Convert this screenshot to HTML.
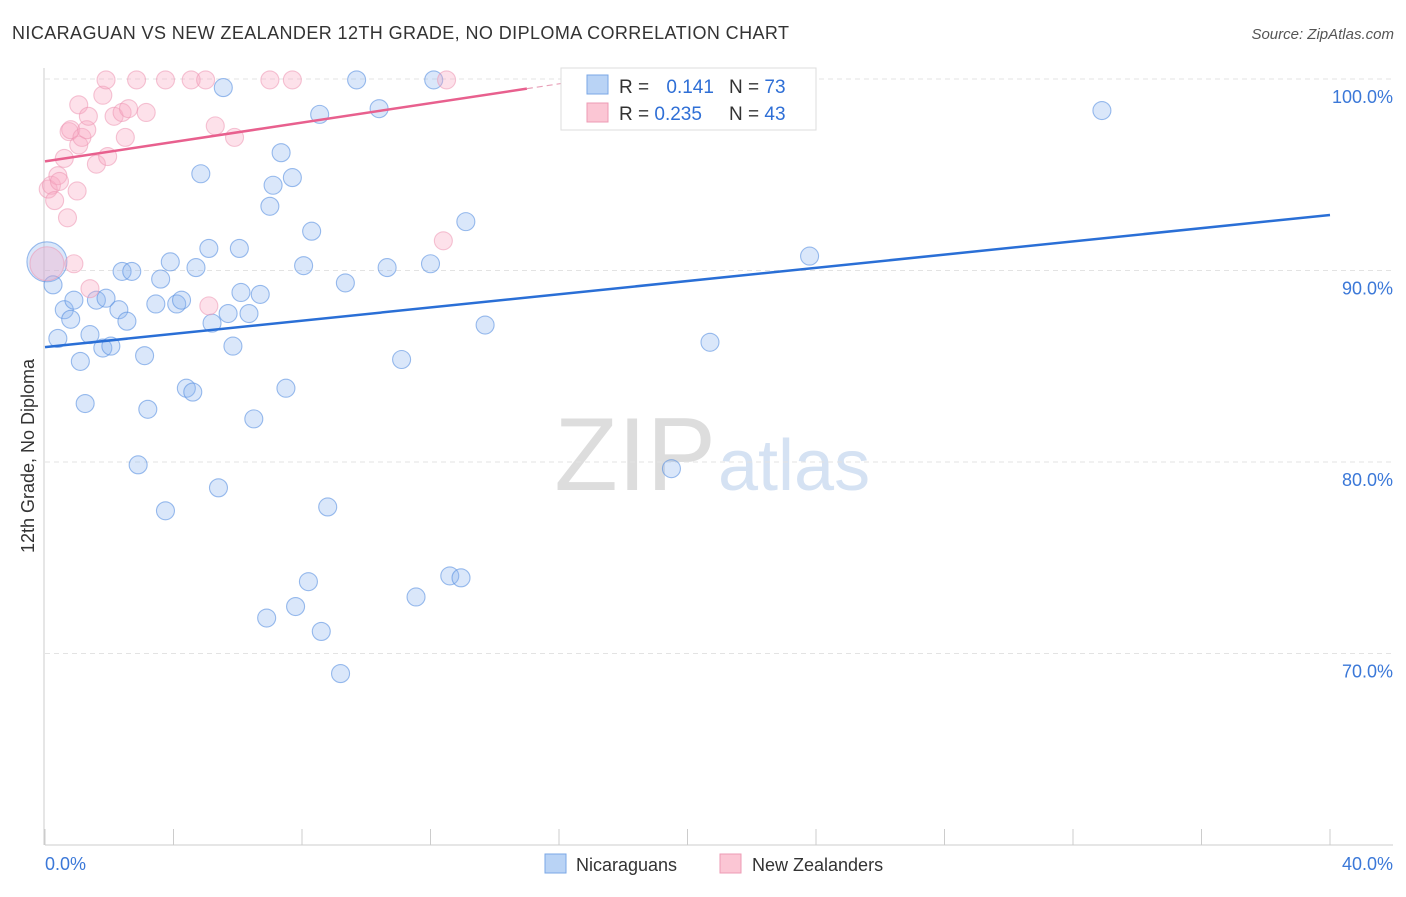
<!DOCTYPE html>
<html><head><meta charset="utf-8"><style>
body{margin:0;background:#fff;font-family:"Liberation Sans",sans-serif}
svg text{font-family:"Liberation Sans",sans-serif}
</style></head><body>
<svg id="c" width="1406" height="892">
<text x="12" y="39" font-size="18" fill="#333" textLength="777">NICARAGUAN VS NEW ZEALANDER 12TH GRADE, NO DIPLOMA CORRELATION CHART</text>
<text x="1394" y="39" font-size="15" fill="#555" text-anchor="end" font-style="italic">Source: ZipAtlas.com</text>
<text x="716" y="490" font-size="104" fill="#ddd" text-anchor="end" font-family="Liberation Serif">ZIP</text>
<text x="718" y="490" font-size="72" fill="#d5e2f3">atlas</text>
<g id="grid"></g><g id="axes"></g><g id="pts"></g><g id="lines"></g>
<text transform="translate(34,456) rotate(-90)" font-size="18" fill="#333" text-anchor="middle">12th Grade, No Diploma</text>
<g>
<rect x="561" y="68" width="255" height="62" fill="#fff" stroke="#ddd"/>
<rect x="587" y="75" width="21" height="19" fill="#b9d3f5" stroke="#7aa7e6"/>
<rect x="587" y="103" width="21" height="19" fill="#fbc6d4" stroke="#ee9bb4"/>
<text x="619" y="93" font-size="19" fill="#333">R = <tspan fill="#2f6fd6" dx="12">0.141</tspan></text>
<text x="729" y="93" font-size="19" fill="#333">N = <tspan fill="#2f6fd6">73</tspan></text>
<text x="619" y="120" font-size="19" fill="#333">R = <tspan fill="#2f6fd6">0.235</tspan></text>
<text x="729" y="120" font-size="19" fill="#333">N = <tspan fill="#2f6fd6">43</tspan></text>
</g>
<g>
<rect x="545" y="854" width="21" height="19" fill="#b9d3f5" stroke="#7aa7e6"/>
<text x="576" y="871" font-size="18" fill="#333">Nicaraguans</text>
<rect x="720" y="854" width="21" height="19" fill="#fbc6d4" stroke="#ee9bb4"/>
<text x="752" y="871" font-size="18" fill="#333">New Zealanders</text>
</g>
</svg>
<script>
const blueX=[0.06,0.25,0.4,0.6,0.8,0.9,1.1,1.25,1.4,1.6,1.8,1.9,2.05,2.3,2.4,2.55,2.7,3.1,3.2,2.9,3.45,3.6,3.75,3.9,4.1,4.25,4.4,4.6,4.7,4.85,5.1,5.2,5.4,5.55,5.7,5.85,6.05,6.1,6.35,6.5,6.7,6.9,7.0,7.1,7.35,7.5,7.7,7.8,8.05,8.2,8.3,8.55,8.6,8.8,9.2,9.35,9.7,10.4,10.65,11.1,11.55,12.0,12.1,12.6,12.95,13.1,13.7,16.9,19.5,20.7,21.0,23.8,32.9];
const blueY=[90.4,89.2,86.4,87.9,87.4,88.4,85.2,83.0,86.6,88.4,85.9,88.5,86.0,87.9,89.9,87.3,89.9,85.5,82.7,79.8,88.2,89.5,77.4,90.4,88.2,88.4,83.8,83.6,90.1,95.0,91.1,87.2,78.6,99.5,87.7,86.0,91.1,88.8,87.7,82.2,88.7,71.8,93.3,94.4,96.1,83.8,94.8,72.4,90.2,73.7,92.0,98.1,71.1,77.6,68.9,89.3,99.9,98.4,90.1,85.3,72.9,90.3,99.9,74.0,73.9,92.5,87.1,99.9,79.6,86.2,99.9,90.7,98.3];
const pinkX=[0.1,0.2,0.3,0.4,0.45,0.6,0.7,0.75,0.8,0.9,1.0,1.05,1.05,1.15,1.3,1.35,1.4,1.6,1.8,1.9,1.95,2.15,2.4,2.5,2.6,2.85,3.15,3.75,4.55,5.0,5.1,5.3,5.9,7.0,7.7,12.4,12.5];
const pinkY=[94.2,94.4,93.6,94.9,94.6,95.8,92.7,97.2,97.3,90.3,94.1,96.5,98.6,96.9,97.3,98.0,89.0,95.5,99.1,99.9,95.9,98.0,98.2,96.9,98.4,99.9,98.2,99.9,99.9,99.9,88.1,97.5,96.9,99.9,99.9,91.5,99.9];
const bigX=[0.06],bigBlueY=[90.4],bigPinkY=[90.3];
const blueTrend=[86.0,92.9], pinkTrend=[95.7,0.253];
const yTicks=[100,90,80,70];
const NS="http://www.w3.org/2000/svg";
const X=v=>45+v/40*1285, Y=v=>79+(100-v)/10*191.5;
function mk(t,a,p){const e=document.createElementNS(NS,t);for(const k in a)e.setAttribute(k,a[k]);p.appendChild(e);return e;}
const grid=document.getElementById('grid'),axes=document.getElementById('axes'),pts=document.getElementById('pts'),lines=document.getElementById('lines');
yTicks.forEach(v=>{const l=mk('line',{x1:45,x2:1393,y1:Y(v),y2:Y(v),stroke:'#e3e3e3','stroke-dasharray':'5,4'},grid);


const t=mk('text',{x:1393,y:Y(v)+24,'font-size':18,fill:'#3b78d8','text-anchor':'end'},axes);t.textContent=v.toFixed(1)+'%';

});
const ax=mk('line',{x1:45,x2:1393,y1:845,y2:845,stroke:'#ccc'},axes);


const ay=mk('line',{x1:44,x2:44,y1:68,y2:845,stroke:'#ccc'},axes);


for(let i=0;i<=10;i++){const tk=mk('line',{x1:X(i*4),x2:X(i*4),y1:829,y2:845,stroke:'#ccc'},axes);

}
[['0.0%',45,'start'],['40.0%',1393,'end']].forEach(a=>{const t=mk('text',{x:a[1],y:870,'font-size':18,fill:'#3b78d8','text-anchor':a[2]},axes);t.textContent=a[0];

});
function dot(x,y,r,c){const f=c?'rgba(248,170,195,0.35)':'rgba(140,180,240,0.32)',s=c?'rgba(236,150,178,0.55)':'rgba(90,145,225,0.6)';
const e=mk('circle',{cx:X(x),cy:Y(y)-1,r:r,fill:f,stroke:s,'stroke-width':1.1},pts);

}
bigX.forEach((x,i)=>dot(x,bigBlueY[i],20,0));
blueX.forEach((x,i)=>{if(i>0)dot(x,blueY[i],9,0);});
bigX.forEach((x,i)=>dot(x,bigPinkY[i],17,1));
pinkX.forEach((x,i)=>dot(x,pinkY[i],9,1));
const bl=mk('line',{x1:X(0),y1:Y(blueTrend[0]),x2:X(40),y2:Y(blueTrend[1]),stroke:'#2a6fd6','stroke-width':2.5},lines);


const pl=mk('line',{x1:X(0),y1:Y(pinkTrend[0]),x2:X(15),y2:Y(pinkTrend[0]+15*pinkTrend[1]),stroke:'#e8608e','stroke-width':2.5},lines);


const pd=mk('line',{x1:X(15),y1:Y(pinkTrend[0]+15*pinkTrend[1]),x2:X(17),y2:Y(pinkTrend[0]+17*pinkTrend[1]),stroke:'#e8a0b8','stroke-width':1.2,'stroke-dasharray':'6,4'},lines);


</script>
</body></html>
